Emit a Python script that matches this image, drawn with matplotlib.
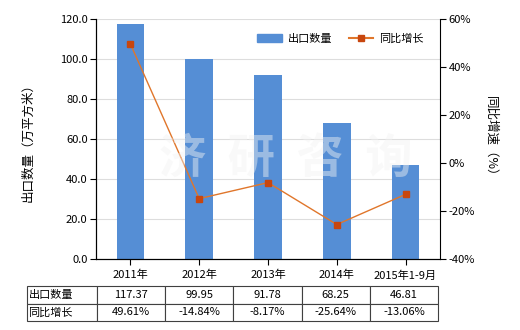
import matplotlib
matplotlib.use("Agg")
import matplotlib.pyplot as plt
from matplotlib.lines import Line2D
from matplotlib.patches import Patch

plt.rcParams['font.family'] = ['Noto Sans CJK SC', 'DejaVu Sans']

# 数据
categories = ['2011年', '2012年', '2013年', '2014年', '2015年1-9月']
export_qty = [117.37, 99.95, 91.78, 68.25, 46.81]
yoy_growth = [49.61, -14.84, -8.17, -25.64, -13.06]
qty_labels = ['117.37', '99.95', '91.78', '68.25', '46.81']
growth_labels = ['49.61%', '-14.84%', '-8.17%', '-25.64%', '-13.06%']

bar_color = '#558ED5'
line_color = '#E0762B'
marker_color = '#C8460E'

fig = plt.figure(figsize=(5.2, 3.3), dpi=100)
ax = fig.add_axes([96 / 520, 1 - 259 / 330, 344 / 520, 240 / 330])

x = list(range(len(categories)))
ax.bar(x, export_qty, width=0.4, color=bar_color, zorder=2)
ax.set_xlim(-0.5, len(categories) - 0.5)
ax.set_ylim(0, 120)
ax.set_yticks([0, 20, 40, 60, 80, 100, 120])
ax.set_yticklabels([f'{v:.1f}' for v in [0, 20, 40, 60, 80, 100, 120]], fontsize=8)
ax.set_xticks(x)
ax.set_xticklabels(categories, fontsize=8)
ax.tick_params(axis='x', length=4, pad=4)
ax.tick_params(axis='y', length=4, pad=2)
ax.grid(axis='y', color='#DDDDDD', linewidth=0.8, zorder=0)
ax.set_axisbelow(True)
ax.spines['top'].set_visible(False)
ax.spines['right'].set_visible(False)
ax.set_ylabel('出口数量（万平方米）', fontsize=9, labelpad=18)

ax2 = ax.twinx()
ax2.plot(x, yoy_growth, color=line_color, linewidth=1, marker='s', markersize=5,
         markerfacecolor=marker_color, markeredgecolor=marker_color, zorder=3)
ax2.set_ylim(-40, 60)
ax2.set_yticks([-40, -20, 0, 20, 40, 60])
ax2.set_yticklabels([f'{v}%' for v in [-40, -20, 0, 20, 40, 60]], fontsize=8)
ax2.tick_params(axis='y', length=4, pad=2)
ax2.spines['top'].set_visible(False)
ax2.set_ylabel('同比增速（%）', fontsize=9, rotation=-90, labelpad=16)

# 水印
fig.text(0.55, 0.52, '济  研  咨  询', fontsize=34, color='#F2F2F2', alpha=0.45,
         ha='center', va='center', zorder=10, fontweight='bold')

# 图例
handles = [Patch(color=bar_color),
           Line2D([0], [0], color=line_color, marker='s', markersize=4,
                  markerfacecolor=marker_color, markeredgecolor=marker_color)]
ax2.legend(handles, ['出口数量', '同比增长'], loc='upper right', ncol=2, frameon=False,
           fontsize=8, bbox_to_anchor=(0.98, 0.98), handlelength=2.2, columnspacing=1.5,
           handletextpad=0.5)

# 表格
cell_text = [['出口数量'] + qty_labels, ['同比增长'] + growth_labels]
tbl = ax.table(cellText=cell_text, cellLoc='center',
               colWidths=[70] + [68.3] * 5,
               bbox=[(27 - 96) / 344, (259 - 321) / 240, (438 - 27) / 344, 35 / 240])
tbl.auto_set_font_size(False)
tbl.set_fontsize(8)
for (r, c), cell in tbl.get_celld().items():
    cell.set_edgecolor('#404040')
    cell.set_linewidth(0.8)
    if c == 0:
        cell.set_text_props(ha='left')
        cell.PAD = 0.02

fig.savefig('out.png', dpi=100)
